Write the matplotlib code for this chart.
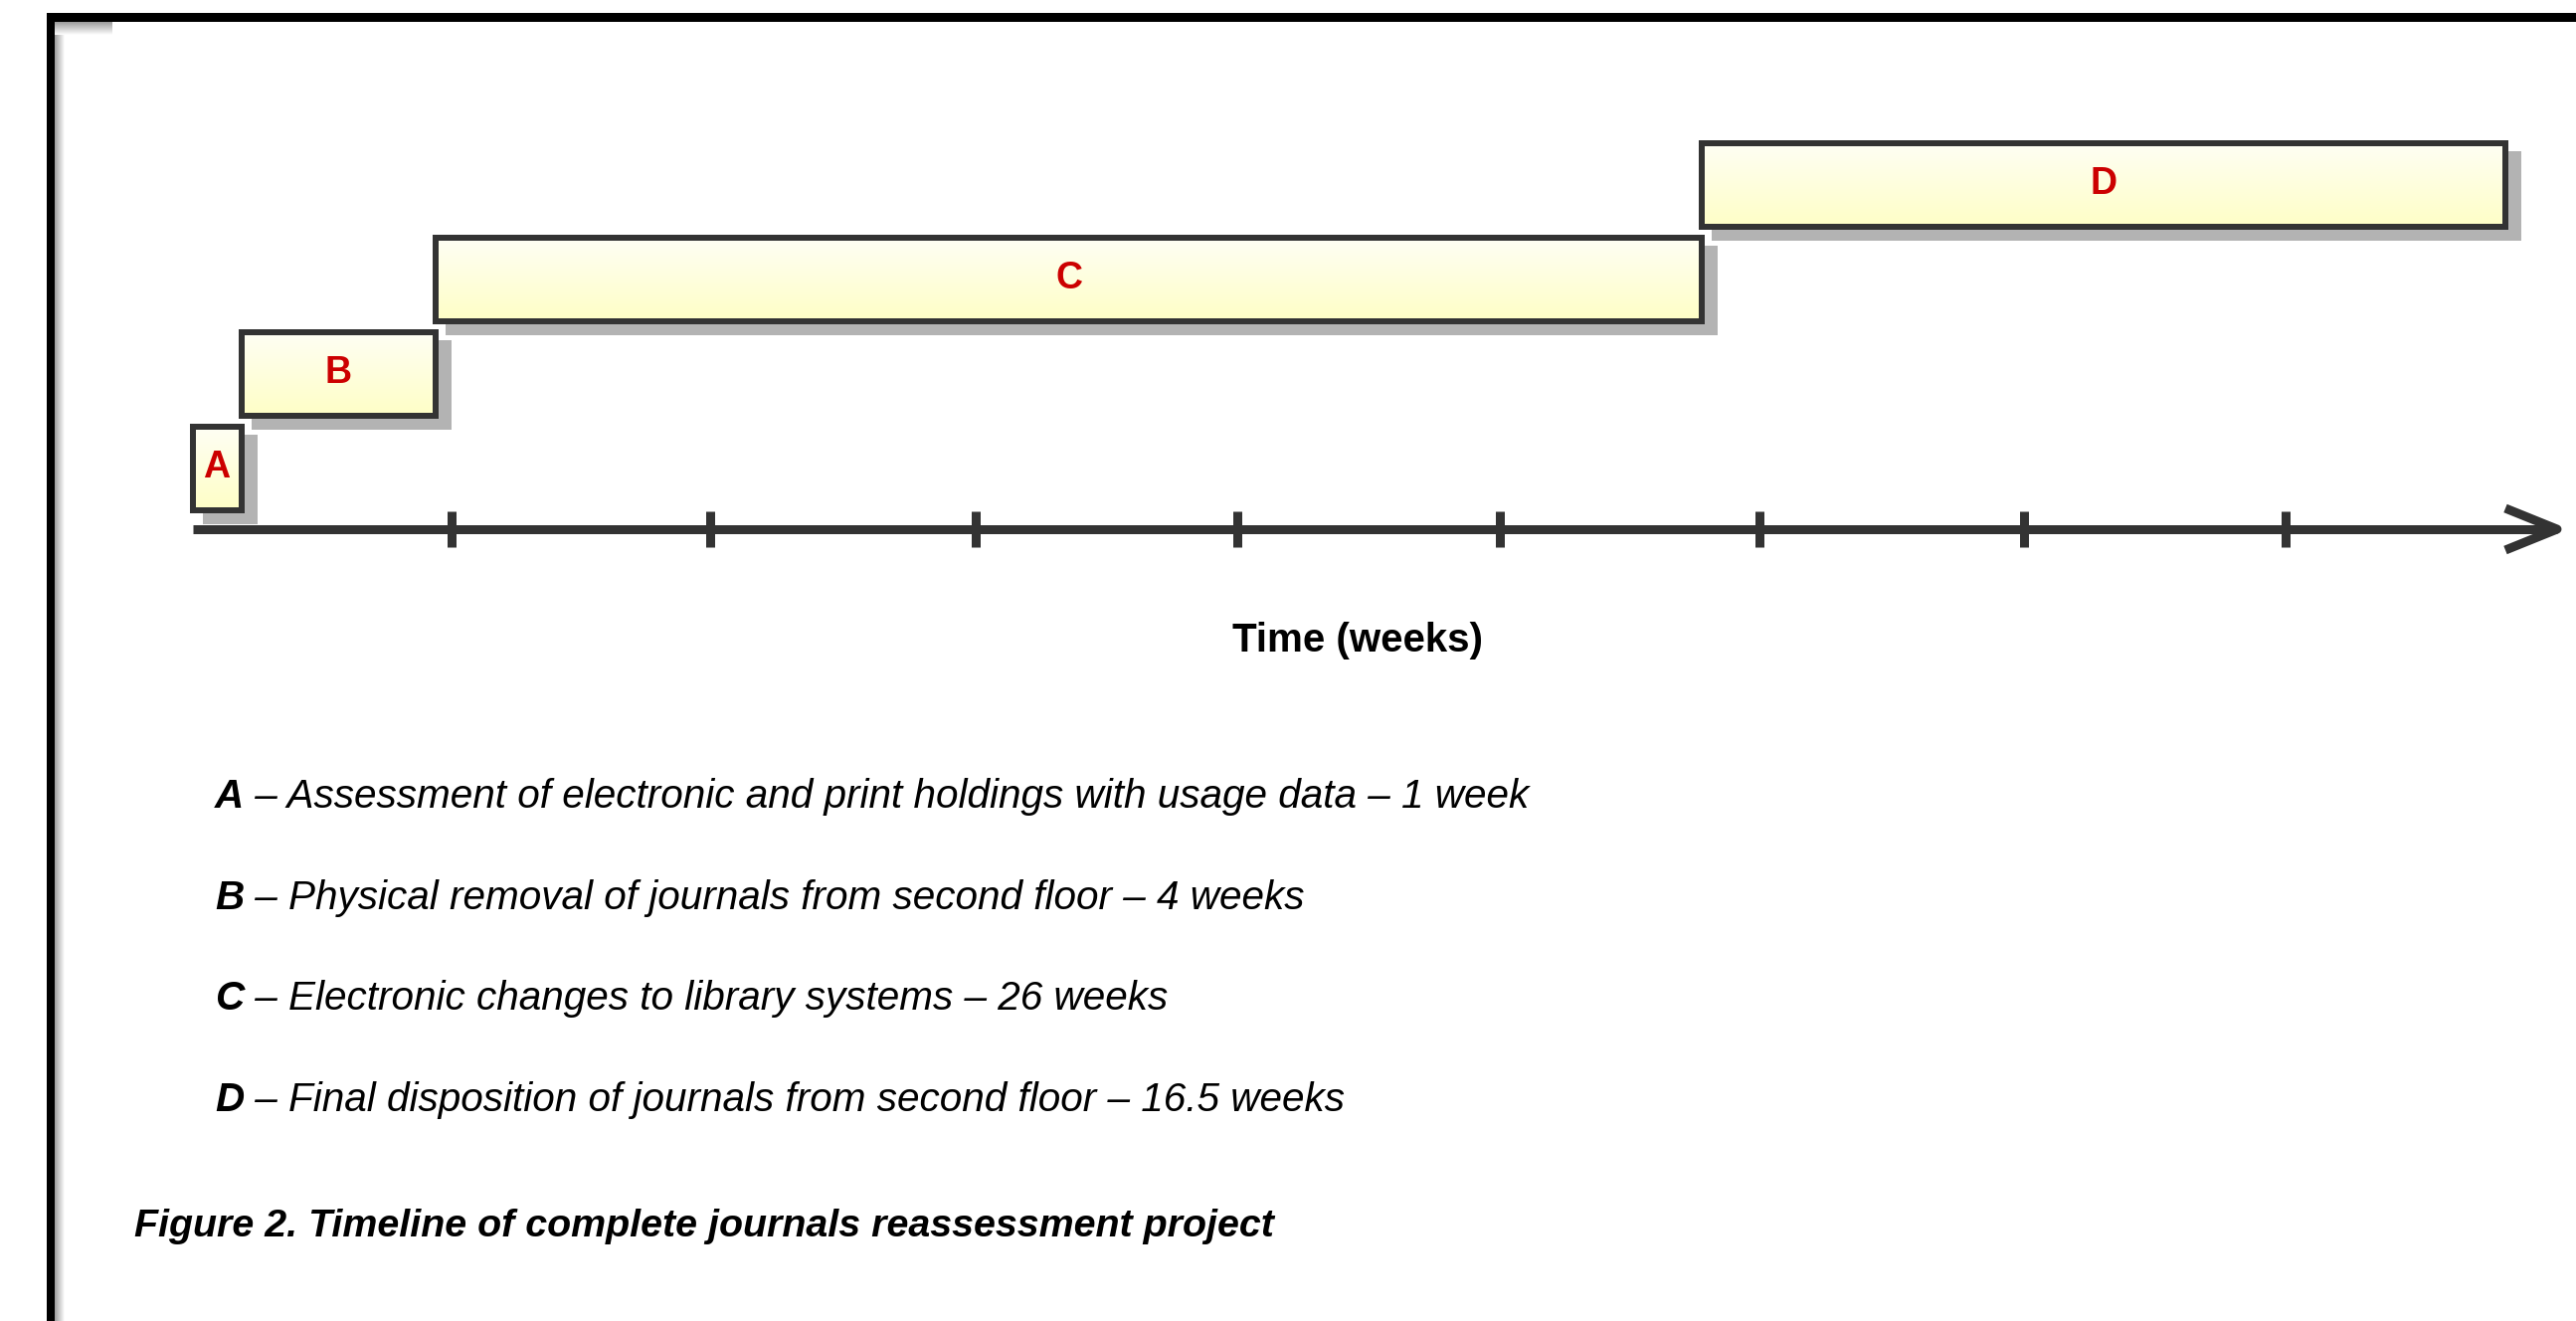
import numpy as np
import matplotlib
matplotlib.use("Agg")
import matplotlib.pyplot as plt
from matplotlib.patches import Rectangle
from matplotlib.colors import LinearSegmentedColormap
from matplotlib.transforms import offset_copy

# ---------------- data ----------------
phases = ["A", "B", "C", "D"]
durations = [1, 4, 26, 16.5]          # weeks
descriptions = [
    "Assessment of electronic and print holdings with usage data",
    "Physical removal of journals from second floor",
    "Electronic changes to library systems",
    "Final disposition of journals from second floor",
]
tick_weeks = [5.32, 10.62, 16.09, 21.45, 26.85, 32.18, 37.61, 42.98]
axis_label = "Time (weeks)"
caption = "Figure 2. Timeline of complete journals reassessment project"

# ---------------- layout ----------------
W, H = 2590, 1328
DPI = 100


def px2pt(p):
    return p * 72.0 / DPI


fig = plt.figure(figsize=(W / DPI, H / DPI), dpi=DPI)
fig.patch.set_facecolor("white")

# background (frame) axes in pixel coordinates
bg = fig.add_axes([0, 0, 1, 1], zorder=0)
bg.set_xlim(0, W)
bg.set_ylim(H, 0)
bg.axis("off")
gray_cmap = LinearSegmentedColormap.from_list("sh", ["#9c9c9c", "#ffffff"])
bg.imshow(np.linspace(0, 1, 64).reshape(1, -1), extent=[55, 65, H, 22],
          cmap=gray_cmap, aspect="auto", interpolation="bilinear", zorder=1)
bg.imshow(np.linspace(0, 1, 64).reshape(-1, 1), extent=[55, 113, 35, 22],
          cmap=gray_cmap, aspect="auto", interpolation="bilinear", zorder=1)
bg.add_patch(Rectangle((47, 13), W - 47, 9, facecolor="black", lw=0, zorder=2))
bg.add_patch(Rectangle((47, 13), 8, H - 13, facecolor="black", lw=0, zorder=2))
bg.set_xlim(0, W)
bg.set_ylim(H, 0)

# main axes: x in weeks, y in pixels above the time axis
ax = fig.add_axes([0, 0, 1, 1], zorder=1)
ax.axis("off")
x0px, ppw, axis_y = 193.6, 48.96, 532
xlim = (-x0px / ppw, (W - x0px) / ppw)
ylim = (-(H - axis_y), axis_y)

starts = np.concatenate([[0.0], np.cumsum(durations)[:-1]])

bar_base, bar_step, bar_h = 19, 95, 84
edge_lw = px2pt(6)
dark = "#333333"
bar_cmap = LinearSegmentedColormap.from_list("bar", ["#fefec6", "#fffff4"])
grad = np.linspace(0, 1, 256).reshape(-1, 1)
shadow_tr = offset_copy(ax.transData, fig=fig, x=13, y=-11, units="dots")

for i, (s, d) in enumerate(zip(starts, durations)):
    y0 = bar_base + i * bar_step
    ax.add_patch(Rectangle((s, y0), d, bar_h, transform=shadow_tr,
                           facecolor="#b3b3b3", edgecolor="#b3b3b3",
                           lw=edge_lw, zorder=1))

for i, (lab, s, d) in enumerate(zip(phases, starts, durations)):
    y0 = bar_base + i * bar_step
    edge = Rectangle((s, y0), d, bar_h, facecolor="none", edgecolor=dark,
                     lw=edge_lw, zorder=3, joinstyle="miter")
    ax.add_patch(edge)
    im = ax.imshow(grad, extent=[s, s + d, y0, y0 + bar_h], origin="lower",
                   cmap=bar_cmap, aspect="auto", zorder=2,
                   interpolation="bilinear")
    im.set_clip_path(edge)
    ax.text(s + d / 2, y0 + bar_h / 2 - 9, lab, ha="center", va="baseline",
            color="#cc0000", fontsize=27, fontweight="bold",
            family="Liberation Sans", zorder=4)

# time axis with ticks and open arrow head
axis_end = (2571 - x0px) / ppw
ax.plot([0, axis_end], [0, 0], color=dark, lw=px2pt(9),
        solid_capstyle="butt", zorder=3)
head_dx, head_dy = 52 / ppw, 21
ax.plot([axis_end - head_dx, axis_end, axis_end - head_dx],
        [head_dy, 0, -head_dy], color=dark, lw=px2pt(9),
        solid_joinstyle="round", solid_capstyle="butt", zorder=3)
ax.vlines(tick_weeks, -18, 18, color=dark, lw=px2pt(9), zorder=3)

ax.set_xlim(*xlim)
ax.set_ylim(*ylim)

# axis label
fig.text(1365 / W, 1 - 655 / H, axis_label, ha="center", va="baseline",
         fontsize=29, fontweight="bold", family="Liberation Sans")

# legend descriptions
first_base, line_step = 812, 101.7
for i, (lab, desc, d) in enumerate(zip(phases, descriptions, durations)):
    base = first_base + i * line_step
    unit = "week" if d == 1 else "weeks"
    tA = fig.text(216 / W, 1 - base / H, lab, ha="left", va="baseline",
                  fontsize=29.2, fontweight="bold", fontstyle="italic",
                  family="Liberation Sans")
    ax.annotate(f" \u2013 {desc} \u2013 {d:g} {unit}", xy=(1, 0),
                xycoords=tA, ha="left", va="bottom", fontsize=29.2,
                fontstyle="italic", family="Liberation Sans")

# caption
fig.text(135 / W, 1 - 1243 / H, caption, ha="left", va="baseline",
         fontsize=28.4, fontweight="bold", fontstyle="italic",
         family="Liberation Sans")

fig.savefig("out.png", dpi=DPI, facecolor="white")
